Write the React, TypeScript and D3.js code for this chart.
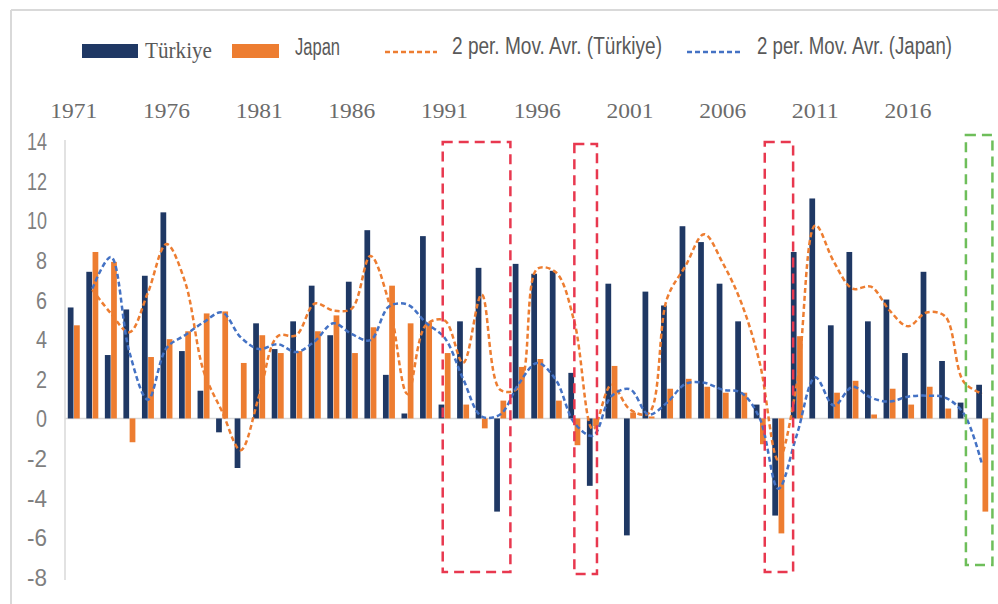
import React from "react";
import * as d3 from "d3";

const years: number[] = [
  1971, 1972, 1973, 1974, 1975, 1976, 1977, 1978, 1979, 1980,
  1981, 1982, 1983, 1984, 1985, 1986, 1987, 1988, 1989, 1990,
  1991, 1992, 1993, 1994, 1995, 1996, 1997, 1998, 1999, 2000,
  2001, 2002, 2003, 2004, 2005, 2006, 2007, 2008, 2009, 2010,
  2011, 2012, 2013, 2014, 2015, 2016, 2017, 2018, 2019, 2020,
];

const tickYears: number[] = [1971, 1976, 1981, 1986, 1991, 1996, 2001, 2006, 2011, 2016];
const yTicks: number[] = [14, 12, 10, 8, 6, 4, 2, 0, -2, -4, -6, -8];

const turkiye: number[] = [
  5.6, 7.4, 3.2, 5.5, 7.2, 10.4, 3.4, 1.4, -0.7, -2.5,
  4.8, 3.5, 4.9, 6.7, 4.2, 6.9, 9.5, 2.2, 0.25, 9.2,
  0.7, 4.9, 7.6, -4.7, 7.8, 7.3, 7.45, 2.3, -3.4, 6.8,
  -5.9, 6.4, 5.7, 9.7, 8.9, 6.8, 4.9, 0.7, -4.9, 8.4,
  11.1, 4.7, 8.4, 4.9, 6.0, 3.3, 7.4, 2.9, 0.8, 1.7,
];

const japan: number[] = [
  4.7, 8.4, 7.9, -1.2, 3.1, 4.0, 4.4, 5.3, 5.4, 2.8,
  4.2, 3.3, 3.4, 4.4, 5.2, 3.3, 4.6, 6.7, 4.8, 4.85,
  3.3, 0.7, -0.5, 0.9, 2.6, 3.0, 0.9, -1.35, -0.4, 2.65,
  0.3, 0.1, 1.5, 2.0, 1.6, 1.3, 1.3, -1.3, -5.8, 4.15,
  0.0, 1.3, 1.9, 0.2, 1.5, 0.7, 1.6, 0.5, 0.0, -4.7,
];

const seriesNames: string[] = ["Türkiye", "Japan"];
const maNames: string[] = ["2 per. Mov. Avr. (Türkiye)", "2 per. Mov. Avr. (Japan)"];

// highlighted periods (annotation boxes)
const boxStart: number[] = [1991, 1998, 2008, 2019];
const boxEnd: number[] = [1994, 1999, 2009, 2020];
const boxColor: string[] = ["#E8384F", "#E8384F", "#E8384F", "#6EBE5A"];
const boxTop: number[] = [13.95, 13.85, 13.95, 14.3];
const boxBottom: number[] = [-7.75, -7.85, -7.75, -7.4];
const boxPadL: number[] = [-0.1, 0.0, 0.27, 0.12];
const boxPadR: number[] = [0.55, 0.22, 0.8, 0.55];

const NAVY = "#1F3864";
const ORANGE = "#ED7D31";
const BLUE = "#4472C4";

function movingAverage(values: number[]): (number | null)[] {
  return values.map((v, i) => (i === 0 ? null : (values[i - 1] + v) / 2));
}

export default function App() {
  const W = 998;
  const H = 604;

  const x = d3
    .scaleBand<number>()
    .domain(years)
    .range([64.5, 991.5])
    .paddingInner(0.3)
    .paddingOuter(0.15);
  const step = x.step();
  const xs = d3.scaleBand<string>().domain(seriesNames).range([0, x.bandwidth()]).padding(0.08);
  const cx = (yr: number) => (x(yr) as number) + x.bandwidth() / 2;

  const y = d3.scaleLinear().domain([-8, 14]).range([577, 141]);

  const maT = movingAverage(turkiye);
  const maJ = movingAverage(japan);

  const line = d3
    .line<[number, number | null]>()
    .defined((d) => d[1] !== null)
    .x((d) => cx(d[0]))
    .y((d) => y(d[1] as number))
    .curve(d3.curveCatmullRom.alpha(0.5));

  const pathT = line(years.map((yr, i) => [yr, maT[i]]));
  const pathJ = line(years.map((yr, i) => [yr, maJ[i]]));

  const bars: { key: string; x: number; y: number; w: number; h: number; fill: string }[] = [];
  years.forEach((yr, i) => {
    [turkiye[i], japan[i]].forEach((v, s) => {
      const bx = (x(yr) as number) + (xs(seriesNames[s]) as number);
      bars.push({
        key: `${yr}-${s}`,
        x: bx,
        y: Math.min(y(v), y(0)),
        w: xs.bandwidth(),
        h: Math.abs(y(v) - y(0)),
        fill: s === 0 ? NAVY : ORANGE,
      });
    });
  });

  const sans = "'Liberation Sans', Arial, sans-serif";
  const serif = "'Liberation Serif', 'Times New Roman', serif";

  return (
    <svg
      width={W}
      height={H}
      viewBox={`0 0 ${W} ${H}`}
      style={{ position: "absolute", left: 0, top: 0, background: "#fff", display: "block" }}
    >
      <rect x={0} y={0} width={W} height={H} fill="#fff" />
      {/* outer frame */}
      <line x1={11} y1={10} x2={W} y2={10} stroke="#D9D9D9" strokeWidth={2} />
      <line x1={11} y1={10} x2={11} y2={H} stroke="#D9D9D9" strokeWidth={2} />

      {/* legend */}
      <g>
        <rect x={82} y={44} width={56} height={14} fill={NAVY} />
        <text x={145} y={58} fontFamily={serif} fontSize={23} fill="#595959" textLength={67} lengthAdjust="spacingAndGlyphs">
          {seriesNames[0]}
        </text>
        <rect x={232} y={44} width={47} height={14} fill={ORANGE} />
        <text x={295} y={55} fontFamily={sans} fontSize={23} fill="#595959" textLength={45} lengthAdjust="spacingAndGlyphs">
          {seriesNames[1]}
        </text>
        <line x1={385} y1={52} x2={437} y2={52} stroke={ORANGE} strokeWidth={2.5} strokeDasharray="5 3" />
        <text x={452} y={54} fontFamily={sans} fontSize={23} fill="#595959" textLength={210} lengthAdjust="spacingAndGlyphs">
          {maNames[0]}
        </text>
        <line x1={687} y1={52} x2={742} y2={52} stroke={BLUE} strokeWidth={2.5} strokeDasharray="5 3" />
        <text x={757} y={54} fontFamily={sans} fontSize={23} fill="#595959" textLength={195} lengthAdjust="spacingAndGlyphs">
          {maNames[1]}
        </text>
      </g>

      {/* top category labels */}
      {tickYears.map((yr) => (
        <text
          key={yr}
          x={cx(yr)}
          y={118}
          textAnchor="middle"
          fontFamily={serif}
          fontSize={21}
          fill="#6B6B6B"
          textLength={47}
          lengthAdjust="spacingAndGlyphs"
        >
          {yr}
        </text>
      ))}

      {/* y axis labels */}
      {yTicks.map((t) => (
        <text
          key={t}
          x={47}
          y={y(t) + 9}
          textAnchor="end"
          fontFamily={sans}
          fontSize={23}
          fill="#7F7F7F"
          textLength={t < 0 || t >= 10 ? 20 : 11}
          lengthAdjust="spacingAndGlyphs"
        >
          {t}
        </text>
      ))}

      {/* axis lines */}
      <line x1={65} y1={y(14) - 1} x2={65} y2={y(-8) + 3} stroke="#D9D9D9" strokeWidth={1.5} />
      <line x1={65} y1={y(0)} x2={991.5} y2={y(0)} stroke="#D9D9D9" strokeWidth={1.5} />

      {/* bars */}
      {bars.map((b) => (
        <rect key={b.key} x={b.x} y={b.y} width={b.w} height={b.h} fill={b.fill} />
      ))}

      {/* moving averages */}
      <path d={pathT ?? ""} fill="none" stroke={ORANGE} strokeWidth={2.5} strokeDasharray="5 3" />
      <path d={pathJ ?? ""} fill="none" stroke={BLUE} strokeWidth={2.5} strokeDasharray="5 3" />

      {/* annotation boxes */}
      {boxStart.map((s, i) => {
        const x0 = cx(s) + boxPadL[i] * step;
        const x1 = cx(boxEnd[i]) + boxPadR[i] * step;
        return (
          <rect
            key={`box-${i}`}
            x={x0}
            y={y(boxTop[i])}
            width={x1 - x0}
            height={y(boxBottom[i]) - y(boxTop[i])}
            fill="none"
            stroke={boxColor[i]}
            strokeWidth={2.5}
            strokeDasharray="10 6"
          />
        );
      })}
    </svg>
  );
}
